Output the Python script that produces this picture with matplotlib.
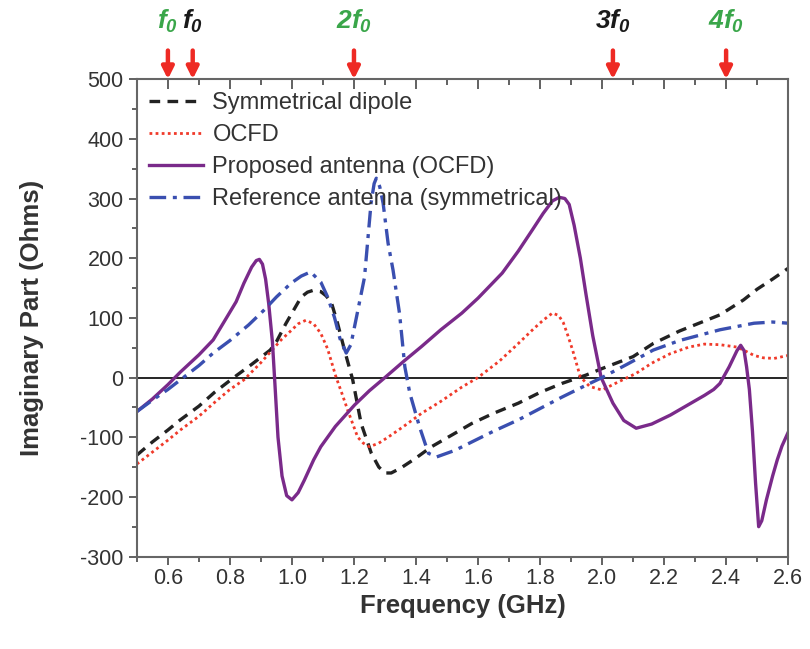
import numpy as np
import matplotlib
matplotlib.use("Agg")
import matplotlib.pyplot as plt
from matplotlib.ticker import MultipleLocator

plt.rcParams['font.family'] = ['Liberation Sans', 'DejaVu Sans']
plt.rcParams['axes.unicode_minus'] = False
# etiquetas f0 en negrita cursiva
plt.rcParams['mathtext.fontset'] = 'custom'
plt.rcParams['mathtext.rm'] = 'Liberation Sans:italic:bold'
plt.rcParams['mathtext.it'] = 'Liberation Sans:italic:bold'

# datos (GHz, Ohms)
f_dipolo = [0.5, 0.55, 0.6, 0.64, 0.7, 0.75, 0.8, 0.823, 0.87, 0.93, 0.95, 0.98, 1.0, 1.03,
            1.05, 1.068, 1.093, 1.11, 1.127, 1.147, 1.17, 1.196, 1.223, 1.256, 1.28, 1.30,
            1.32, 1.35, 1.397, 1.45, 1.527, 1.58, 1.65, 1.73, 1.8, 1.87, 1.948, 2.0, 2.1,
            2.165, 2.25, 2.38, 2.456, 2.5, 2.55, 2.6]
x_dipolo = [-130, -108, -88, -71, -48, -25, -5, 4, 22, 46, 60, 90, 108, 135,
            143, 146, 144, 137, 126, 91, 45, -4, -77, -127, -150, -160,
            -160, -152, -136, -116, -93, -77, -60, -43, -25, -10, 4, 15, 35,
            57, 78, 105, 130, 148, 165, 183]

f_ocfd = [0.5, 0.55, 0.6, 0.64, 0.7, 0.75, 0.8, 0.845, 0.9, 0.965, 1.0, 1.02, 1.045, 1.07,
          1.093, 1.115, 1.142, 1.16, 1.18, 1.212, 1.23, 1.25, 1.28, 1.31, 1.36, 1.418, 1.48,
          1.548, 1.6, 1.67, 1.73, 1.78, 1.81, 1.84, 1.86, 1.875, 1.89, 1.905, 1.93, 1.96,
          1.98, 2.0, 2.05, 2.11, 2.16, 2.22, 2.28, 2.33, 2.38, 2.435, 2.46, 2.49, 2.52,
          2.555, 2.6]
x_ocfd = [-145, -125, -105, -88, -65, -42, -20, -4, 25, 63, 80, 90, 96, 90,
          74, 48, 1, -25, -55, -100, -110, -116, -110, -100, -82, -60, -40,
          -16, 0, 28, 57, 82, 96, 108, 104, 92, 70, 46, 1, -15,
          -18, -21, -8, 7, 24, 40, 51, 56, 55, 51, 45, 37, 33,
          32, 37]

f_propuesta = [0.5, 0.55, 0.6, 0.64, 0.7, 0.746, 0.79, 0.82, 0.845, 0.87, 0.885, 0.895,
               0.905, 0.915, 0.925, 0.937, 0.945, 0.955, 0.968, 0.983, 1.0, 1.02, 1.04,
               1.07, 1.093, 1.14, 1.202, 1.25, 1.30, 1.36, 1.418, 1.48, 1.548, 1.6, 1.678,
               1.73, 1.776, 1.81, 1.84, 1.862, 1.88, 1.894, 1.91, 1.93, 1.948, 1.97, 1.997,
               2.035, 2.07, 2.11, 2.16, 2.22, 2.28, 2.33, 2.36, 2.38, 2.41, 2.435, 2.447,
               2.458, 2.466, 2.475, 2.485, 2.495, 2.505, 2.515, 2.53, 2.55, 2.565, 2.58, 2.6]
x_propuesta = [-57, -36, -12, 9, 38, 63, 101, 127, 158, 185, 196, 198,
               190, 165, 124, 60, -10, -100, -165, -198, -205, -193, -172,
               -138, -116, -82, -46, -22, 0, 27, 52, 80, 108, 133, 175,
               212, 248, 275, 296, 302, 300, 290, 255, 200, 140, 70, 0,
               -43, -72, -85, -78, -63, -45, -30, -20, -10, 18, 45, 54,
               45, 18, -20, -90, -177, -250, -240, -205, -165, -138, -115, -92]

f_referencia = [0.5, 0.55, 0.6, 0.64, 0.7, 0.746, 0.8, 0.86, 0.91, 0.95, 0.997, 1.03, 1.06,
                1.093, 1.115, 1.137, 1.155, 1.175, 1.19, 1.208, 1.234, 1.255, 1.265, 1.272,
                1.283, 1.294, 1.31, 1.326, 1.347, 1.364, 1.38, 1.411, 1.44, 1.467, 1.526,
                1.58, 1.65, 1.73, 1.8, 1.87, 1.948, 2.0, 2.08, 2.165, 2.25, 2.38, 2.49,
                2.55, 2.6]
x_referencia = [-57, -38, -20, -4, 20, 41, 62, 88, 113, 135, 158, 170, 177,
                160, 135, 101, 65, 41, 55, 101, 168, 292, 325, 334,
                320, 292, 225, 180, 107, 18, -26, -82, -127, -133, -122,
                -108, -90, -71, -52, -33, -13, 0, 22, 46, 62, 80, 91,
                93, 91]

etiquetas_serie = ['Symmetrical dipole', 'OCFD', 'Proposed antenna (OCFD)',
                   'Reference antenna (symmetrical)']

# marcas de armonicos arriba del grafico
f_flechas = [0.6, 0.68, 1.2, 2.035, 2.4]
etiquetas_flechas = ['$f_0$', '$f_0$', '$2f_0$', '$3f_0$', '$4f_0$']
colores_flechas = ['#3aa64a', '#1a1a1a', '#3aa64a', '#1a1a1a', '#3aa64a']

fig = plt.figure(figsize=(8.1, 6.49), dpi=100)
ax = fig.add_axes([0.169, 0.1425, 0.804, 0.7355])

ax.axhline(0, color='black', linewidth=1.2, zorder=1)
ax.plot(f_dipolo, x_dipolo, color='#222222', linestyle=(0, (3.2, 2.2)), linewidth=2.4,
        label=etiquetas_serie[0])
ax.plot(f_ocfd, x_ocfd, color='#f03a2a', linestyle=(0, (1, 1.2)), linewidth=2.0,
        label=etiquetas_serie[1])
ax.plot(f_propuesta, x_propuesta, color='#7a2a8a', linewidth=2.4,
        label=etiquetas_serie[2])
ax.plot(f_referencia, x_referencia, color='#3a4fb0', linewidth=2.4,
        linestyle=(0, (5, 2, 1.2, 2)), label=etiquetas_serie[3])

ax.set_xlim(0.5, 2.6)
ax.set_ylim(-300, 500)
ax.xaxis.set_minor_locator(MultipleLocator(0.1))
ax.yaxis.set_major_locator(MultipleLocator(100))
ax.yaxis.set_minor_locator(MultipleLocator(50))
ax.set_xticks(np.arange(0.6, 2.61, 0.2))
ax.set_xticklabels([f'{v:.1f}' for v in np.arange(0.6, 2.61, 0.2)])

for lado in ax.spines.values():
    lado.set_color('#666666')
    lado.set_linewidth(1.5)
ax.tick_params(axis='both', which='both', direction='out', colors='#555555',
               labelcolor='#333333', labelsize=15.5, width=1.3)
ax.tick_params(which='major', length=6)
ax.tick_params(which='minor', length=3.5)
ax.tick_params(axis='x', pad=2)

# marcas del eje superior hacia adentro
arriba = ax.secondary_xaxis('top')
arriba.set_xticks(np.arange(0.6, 2.61, 0.2))
arriba.xaxis.set_minor_locator(MultipleLocator(0.1))
arriba.tick_params(which='both', direction='in', colors='#555555', labeltop=False, width=1.3)
arriba.tick_params(which='major', length=7)
arriba.tick_params(which='minor', length=4)
arriba.spines['top'].set_visible(False)

ax.set_xlabel('Frequency (GHz)', fontsize=18.5, fontweight='bold', color='#333333', labelpad=4)
ax.set_ylabel('Imaginary Part (Ohms)', fontsize=18.5, fontweight='bold', color='#333333',
              labelpad=26)

ax.legend(loc='upper left', frameon=False, fontsize=17, handlelength=2.3,
          handletextpad=0.4, labelspacing=0.43, borderaxespad=0.1,
          bbox_to_anchor=(0.0, 0.998), labelcolor='#333333')

for f, txt, c in zip(f_flechas, etiquetas_flechas, colores_flechas):
    ax.annotate('', xy=(f, 1.0), xycoords=('data', 'axes fraction'),
                xytext=(f, 1.06), textcoords=('data', 'axes fraction'),
                arrowprops=dict(arrowstyle='-|>,head_length=0.7,head_width=0.35',
                                color='#ee2a24', linewidth=3.2, shrinkA=0, shrinkB=0),
                annotation_clip=False)
    ax.text(f, 1.12, txt, transform=ax.get_xaxis_transform(), ha='center', va='center',
            fontsize=19, color=c, clip_on=False)

fig.savefig('out.png', dpi=100)
